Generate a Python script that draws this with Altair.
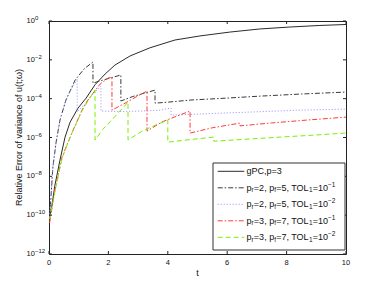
import altair as alt
import pandas as pd

# ---------------- data (log10 of relative error) ----------------
t_gpc = [0.02, 0.10, 0.20, 0.37, 0.54, 0.71, 0.98, 1.25, 1.55, 1.89, 2.22, 2.73, 3.40, 4.24, 5.08, 6.09, 7.10, 8.11, 9.12, 10.0]
e_gpc = [-10.15, -9.48, -8.45, -7.16, -5.98, -5.21, -4.48, -3.97, -3.28, -2.73, -2.27, -1.80, -1.38, -0.98, -0.77, -0.57, -0.41, -0.31, -0.23, -0.18]

t_a = [0.02, 0.07, 0.13, 0.24, 0.37, 0.57, 0.88, 1.18, 1.48, 1.48, 1.8, 2.1, 2.42, 2.42, 2.8, 3.2, 3.57, 3.57, 4.0, 4.78, 6.0, 7.1, 8.5, 10.0]
e_a = [-10.1, -8.97, -7.53, -6.24, -5.1, -4.07, -3.04, -2.47, -2.11, -3.2, -3.05, -2.92, -2.78, -4.12, -3.9, -3.72, -3.56, -4.23, -4.18, -4.07, -3.97, -3.87, -3.76, -3.66]

t_b = [0.02, 0.07, 0.13, 0.24, 0.37, 0.57, 0.77, 0.95, 0.95, 1.21, 1.48, 1.75, 1.75, 2.39, 3.06, 3.74, 4.11, 4.11, 5.08, 6.77, 8.45, 10.0]
e_b = [-10.1, -8.97, -7.53, -6.24, -5.1, -4.07, -3.45, -2.99, -4.69, -4.28, -3.76, -3.35, -4.64, -4.66, -4.64, -4.59, -4.48, -4.85, -4.79, -4.69, -4.59, -4.54]

t_c = [0.02, 0.2, 0.44, 0.77, 1.11, 1.31, 1.72, 1.99, 2.12, 2.12, 2.6, 3.0, 3.3, 3.3, 3.8, 4.3, 4.75, 4.75, 5.5, 6.43, 6.43, 7.5, 8.7, 10.0]
e_c = [-10.4, -8.7, -7.0, -5.77, -4.59, -4.07, -3.25, -2.94, -2.89, -4.59, -4.2, -3.85, -3.61, -5.67, -5.2, -4.9, -4.64, -5.77, -5.5, -5.26, -5.4, -5.25, -5.1, -4.95]

t_d = [0.02, 0.2, 0.44, 0.77, 1.11, 1.35, 1.55, 1.55, 1.8, 2.05, 2.35, 2.66, 2.66, 3.1, 3.6, 4.0, 4.0, 4.8, 5.55, 5.55, 6.5, 7.78, 9.0, 10.0]
e_d = [-10.2, -8.8, -7.06, -5.77, -4.64, -4.02, -3.56, -6.13, -5.6, -5.2, -4.7, -4.18, -6.13, -5.7, -5.35, -5.10, -6.24, -6.1, -5.98, -6.19, -6.1, -5.98, -5.87, -5.77]

x_ticks = [0, 2, 4, 6, 8, 10]
x_tick_labels = ["0", "2", "4", "6", "8", "10"]
y_tick_exps = [0, -2, -4, -6, -8, -10, -12]
y_tick_sups = ["0", "\u22122", "\u22124", "\u22126", "\u22128", "\u221210", "\u221212"]

# ---------------- layout ----------------
W, H = 297, 233
FONT = "Liberation Sans"
TXT = "#111111"

xs = alt.Scale(domain=[0, 10], nice=False)
ys = alt.Scale(type="log", domain=[1e-12, 1], nice=False)


def X(f="t"):
    return alt.X(f + ":Q", scale=xs, axis=None)


def Y(f="err"):
    return alt.Y(f + ":Q", scale=ys, axis=None)


styles = [
    ("gPC", t_gpc, e_gpc, "#2b2b2b", None),
    ("a", t_a, e_a, "#3a3a3a", [5, 2, 1.5, 2]),
    ("b", t_b, e_b, "#8f8fff", [1, 2]),
    ("c", t_c, e_c, "#ff3b3b", [5, 2, 1.5, 2]),
    ("d", t_d, e_d, "#7cf000", [5, 3]),
]

layers = []
for name, ts, es, col, dash in styles:
    df = pd.DataFrame({"t": ts, "err": [10 ** e for e in es], "i": list(range(len(ts)))})
    kw = dict(color=col, strokeWidth=1)
    if dash:
        kw["strokeDash"] = dash
    layers.append(alt.Chart(df).mark_line(**kw).encode(x=X(), y=Y(), order=alt.Order("i:Q")))

# ticks (inward, mirrored)
xt = pd.DataFrame({"t": x_ticks, "lab": x_tick_labels})
yt = pd.DataFrame({"err": [10.0 ** e for e in y_tick_exps], "sup": y_tick_sups})
tk = dict(color="#222222", strokeWidth=1)
layers.append(alt.Chart(xt).mark_rule(**tk).encode(x=X(), y=alt.value(H), y2=alt.value(H - 3)))
layers.append(alt.Chart(xt).mark_rule(**tk).encode(x=X(), y=alt.value(0), y2=alt.value(3)))
layers.append(alt.Chart(yt).mark_rule(**tk).encode(y=Y(), x=alt.value(0), x2=alt.value(3)))
layers.append(alt.Chart(yt).mark_rule(**tk).encode(y=Y(), x=alt.value(W - 3), x2=alt.value(W)))

# tick labels
layers.append(alt.Chart(xt).mark_text(font=FONT, fontSize=7.5, color=TXT, baseline="middle", align="center")
              .encode(x=X(), y=alt.value(H + 9), text="lab:N"))
layers.append(alt.Chart(yt).mark_text(font=FONT, fontSize=7.5, color=TXT, baseline="middle", align="left")
              .encode(y=Y(), x=alt.value(-22.5), text=alt.value("10")))
layers.append(alt.Chart(yt).mark_text(font=FONT, fontSize=6, color=TXT, baseline="middle", align="left", dy=-3)
              .encode(y=Y(), x=alt.value(-22.5 + 8.5), text="sup:N"))

one = pd.DataFrame({"a": [0]})
# axis titles
layers.append(alt.Chart(one).mark_text(font=FONT, fontSize=9, color=TXT, angle=270, baseline="middle", align="center")
              .encode(x=alt.value(-30), y=alt.value(H / 2), text=alt.value("Relative Error of variance of u(t;\u03c9)")))
layers.append(alt.Chart(one).mark_text(font=FONT, fontSize=9, color=TXT, baseline="middle", align="center")
              .encode(x=alt.value(W / 2), y=alt.value(H + 19), text=alt.value("t")))

# legend
LX0, LX1, LY0, LY1 = 164, 296, 142, 229
layers.append(alt.Chart(one).mark_rect(fill="white", stroke="#333333", strokeWidth=1)
              .encode(x=alt.value(LX0), x2=alt.value(LX1), y=alt.value(LY0), y2=alt.value(LY1)))

wid = {'p': .556, 'r': .333, 'f': .278, '=': .584, '2': .556, '3': .556, '5': .556, '7': .556, '1': .556,
       '0': .556, ',': .278, ' ': .278, 'T': .611, 'O': .778, 'L': .556, '\u2212': .584, 'g': .556,
       'P': .667, 'C': .722}
FM, FS = 9, 6.5


def tw(s, fs):
    return sum(wid.get(ch, .556) for ch in s) * fs


leg_texts = [
    [("gPC,p=3", "n")],
    [("p", "n"), ("r", "b"), ("=2, p", "n"), ("f", "b"), ("=5, TOL", "n"), ("1", "b"), ("=10", "n"), ("\u22121", "u")],
    [("p", "n"), ("r", "b"), ("=2, p", "n"), ("f", "b"), ("=5, TOL", "n"), ("1", "b"), ("=10", "n"), ("\u22122", "u")],
    [("p", "n"), ("r", "b"), ("=3, p", "n"), ("f", "b"), ("=7, TOL", "n"), ("1", "b"), ("=10", "n"), ("\u22121", "u")],
    [("p", "n"), ("r", "b"), ("=3, p", "n"), ("f", "b"), ("=7, TOL", "n"), ("1", "b"), ("=10", "n"), ("\u22122", "u")],
]

for k, (name, ts, es, col, dash) in enumerate(styles):
    yy = 150.3 + 16.5 * k
    kw = dict(color=col, strokeWidth=1)
    if dash:
        kw["strokeDash"] = dash
    layers.append(alt.Chart(one).mark_rule(**kw).encode(x=alt.value(168.7), x2=alt.value(195.3), y=alt.value(yy)))
    xx = 197.5
    for s, kind in leg_texts[k]:
        fs = FM if kind == "n" else FS
        dy = 0 if kind == "n" else (2.5 if kind == "b" else -3.2)
        layers.append(alt.Chart(one).mark_text(font=FONT, fontSize=fs, color=TXT, align="left", baseline="middle", dy=dy)
                      .encode(x=alt.value(xx), y=alt.value(yy), text=alt.value(s)))
        xx += tw(s, fs) + (0.2 if kind != "n" else 0)

chart = alt.layer(*layers).properties(
    width=W, height=H,
    autosize=alt.AutoSizeParams(type="none"),
    padding={"left": 41, "top": 13, "right": 28, "bottom": 24},
).configure_view(stroke="#222222", strokeWidth=1)

chart.save("out.html", embed_options={"renderer": "svg", "actions": False})
